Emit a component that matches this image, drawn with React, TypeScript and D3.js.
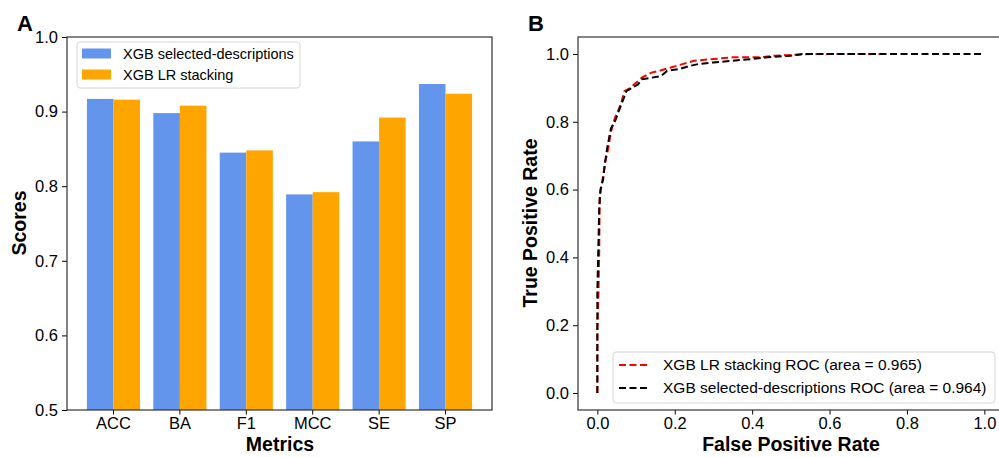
import { useEffect, useRef } from 'react';
import * as d3 from 'd3';

const metrics = ['ACC', 'BA', 'F1', 'MCC', 'SE', 'SP'];
const seriesNames = ['XGB selected-descriptions', 'XGB LR stacking'];
const selectedScores = [0.917, 0.898, 0.845, 0.789, 0.860, 0.937];
const stackingScores = [0.916, 0.908, 0.848, 0.792, 0.892, 0.924];
const barColors = ['#6495ED', '#FFA500'];
const scoreTicks = [0.5, 0.6, 0.7, 0.8, 0.9, 1.0];

// ROC points [fpr, tpr]
const rocStacking: [number, number][] = [
    [0, 0], [0, 0.18], [0.003, 0.30], [0.005, 0.43], [0.006, 0.58], [0.012, 0.62],
    [0.02, 0.68], [0.028, 0.72], [0.035, 0.77], [0.045, 0.81], [0.06, 0.85],
    [0.07, 0.89], [0.085, 0.90], [0.10, 0.915], [0.115, 0.93], [0.14, 0.945],
    [0.16, 0.95], [0.19, 0.96], [0.22, 0.97], [0.25, 0.98], [0.30, 0.985],
    [0.35, 0.99], [0.42, 0.99], [0.46, 0.995], [0.52, 0.998], [0.56, 1.0], [0.73, 1.0],
];
const rocSelected: [number, number][] = [
    [0, 0], [0, 0.30], [0.003, 0.45], [0.005, 0.55], [0.008, 0.60], [0.015, 0.63],
    [0.02, 0.68], [0.025, 0.72], [0.035, 0.78], [0.045, 0.80], [0.055, 0.83],
    [0.065, 0.86], [0.075, 0.89], [0.09, 0.90], [0.105, 0.91], [0.115, 0.925],
    [0.14, 0.93], [0.165, 0.935], [0.18, 0.95], [0.21, 0.955], [0.24, 0.965],
    [0.26, 0.97], [0.30, 0.975], [0.35, 0.98], [0.40, 0.985], [0.44, 0.99],
    [0.50, 0.995], [0.53, 1.0], [1.0, 1.0],
];
const rocLabels = [
    'XGB LR stacking ROC (area = 0.965)',
    'XGB selected-descriptions ROC (area = 0.964)',
];
const rocColors = ['#ff0000', '#000000'];
const rateTicks = [0, 0.2, 0.4, 0.6, 0.8, 1.0];

const FONT = '"Liberation Sans", Arial, Helvetica, sans-serif';
const TICK_FS = 16.5;
const LABEL_FS = 19.5;

export default function App() {
    const ref = useRef<SVGSVGElement>(null);

    useEffect(() => {
        const svg = d3.select(ref.current);
        svg.selectAll('*').remove();
        svg.attr('font-family', FONT);

        const top = 37, bottom = 410;

        // ---------- panel A ----------
        const x0 = d3.scaleBand<string>()
            .domain(metrics)
            .range([67, 492])
            .paddingInner(0.2)
            .paddingOuter(0.3);
        const x1 = d3.scaleBand<string>()
            .domain(seriesNames)
            .range([0, x0.bandwidth()]);
        const yA = d3.scaleLinear().domain([0.5, 1.0]).range([bottom, top]);

        const gA = svg.append('g');
        const seriesValues = [selectedScores, stackingScores];
        seriesNames.forEach((name, si) => {
            gA.append('g')
                .selectAll('rect')
                .data(metrics)
                .enter()
                .append('rect')
                .attr('x', m => (x0(m) as number) + (x1(name) as number))
                .attr('y', (m, i) => yA(seriesValues[si][i]))
                .attr('width', x1.bandwidth())
                .attr('height', (m, i) => bottom - yA(seriesValues[si][i]))
                .attr('fill', barColors[si]);
        });

        gA.append('g')
            .attr('transform', `translate(67,0)`)
            .call(d3.axisLeft(yA).tickValues(scoreTicks).tickFormat(d3.format('.1f')).tickSize(5).tickSizeOuter(0).tickPadding(4))
            .call(g => g.select('.domain').remove())
            .call(g => g.selectAll('text').attr('font-size', TICK_FS).attr('font-family', FONT).attr('fill', '#000'));
        gA.append('g')
            .attr('transform', `translate(0,${bottom})`)
            .call(d3.axisBottom(x0).tickSize(4.5).tickSizeOuter(0).tickPadding(3))
            .call(g => g.select('.domain').remove())
            .call(g => g.selectAll('text').attr('font-size', TICK_FS).attr('font-family', FONT).attr('fill', '#000'));
        gA.append('rect')
            .attr('x', 67).attr('y', top).attr('width', 425).attr('height', bottom - top)
            .attr('fill', 'none').attr('stroke', '#333').attr('stroke-width', 1.2);

        // legend A
        const legA = gA.append('g');
        legA.append('rect')
            .attr('x', 77).attr('y', 42).attr('width', 223).attr('height', 46).attr('rx', 3)
            .attr('fill', 'white').attr('fill-opacity', 0.8).attr('stroke', '#d6d6d6');
        seriesNames.forEach((name, i) => {
            legA.append('rect')
                .attr('x', 82).attr('y', 48.5 + i * 21).attr('width', 29).attr('height', 10)
                .attr('fill', barColors[i]);
            legA.append('text')
                .attr('x', 123).attr('y', 58.5 + i * 21)
                .attr('font-size', 14.5).text(name);
        });

        gA.append('text').attr('x', 280).attr('y', 451).attr('text-anchor', 'middle')
            .attr('font-size', LABEL_FS).attr('font-weight', 'bold').text('Metrics');
        gA.append('text').attr('transform', 'translate(26,223) rotate(-90)').attr('text-anchor', 'middle')
            .attr('font-size', LABEL_FS).attr('font-weight', 'bold').text('Scores');
        gA.append('text').attr('x', 17).attr('y', 31)
            .attr('font-size', 22).attr('font-weight', 'bold').text('A');

        // ---------- panel B ----------
        const xB = d3.scaleLinear().domain([-0.05, 1.05]).range([578, 1003.7]);
        const yB = d3.scaleLinear().domain([-0.05, 1.05]).range([bottom, top]);
        const gB = svg.append('g');

        gB.append('g')
            .attr('transform', `translate(578,0)`)
            .call(d3.axisLeft(yB).tickValues(rateTicks).tickFormat(d3.format('.1f')).tickSize(5).tickSizeOuter(0).tickPadding(4))
            .call(g => g.select('.domain').remove())
            .call(g => g.selectAll('text').attr('font-size', TICK_FS).attr('font-family', FONT).attr('fill', '#000'));
        gB.append('g')
            .attr('transform', `translate(0,${bottom})`)
            .call(d3.axisBottom(xB).tickValues(rateTicks).tickFormat(d3.format('.1f')).tickSize(4.5).tickSizeOuter(0).tickPadding(3))
            .call(g => g.select('.domain').remove())
            .call(g => g.selectAll('text').attr('font-size', TICK_FS).attr('font-family', FONT).attr('fill', '#000'));

        const line = d3.line<[number, number]>().x(d => xB(d[0])).y(d => yB(d[1]));
        [rocStacking, rocSelected].forEach((pts, i) => {
            gB.append('path')
                .datum(pts)
                .attr('d', line)
                .attr('fill', 'none')
                .attr('stroke', rocColors[i])
                .attr('stroke-width', 2)
                .attr('stroke-dasharray', '7,3.5');
        });

        gB.append('rect')
            .attr('x', 578).attr('y', top).attr('width', 1003.7 - 578).attr('height', bottom - top)
            .attr('fill', 'none').attr('stroke', '#333').attr('stroke-width', 1.2);

        // legend B
        const legB = gB.append('g');
        legB.append('rect')
            .attr('x', 613).attr('y', 352).attr('width', 382).attr('height', 51).attr('rx', 3)
            .attr('fill', 'white').attr('fill-opacity', 0.8).attr('stroke', '#d6d6d6');
        rocLabels.forEach((label, i) => {
            legB.append('line')
                .attr('x1', 619).attr('x2', 650)
                .attr('y1', 365 + i * 23).attr('y2', 365 + i * 23)
                .attr('stroke', rocColors[i]).attr('stroke-width', 2)
                .attr('stroke-dasharray', '7,3.5');
            legB.append('text')
                .attr('x', 663).attr('y', 370 + i * 23)
                .attr('font-size', 15.5).text(label);
        });

        gB.append('text').attr('x', 791).attr('y', 451).attr('text-anchor', 'middle')
            .attr('font-size', LABEL_FS).attr('font-weight', 'bold').text('False Positive Rate');
        gB.append('text').attr('transform', 'translate(537,223) rotate(-90)').attr('text-anchor', 'middle')
            .attr('font-size', LABEL_FS).attr('font-weight', 'bold').text('True Positive Rate');
        gB.append('text').attr('x', 528).attr('y', 31)
            .attr('font-size', 22).attr('font-weight', 'bold').text('B');
    }, []);

    return (
        <svg
            ref={ref}
            width={999}
            height={457}
            style={{ display: 'block', position: 'absolute', left: 0, top: 0, background: 'white' }}
        />
    );
}
